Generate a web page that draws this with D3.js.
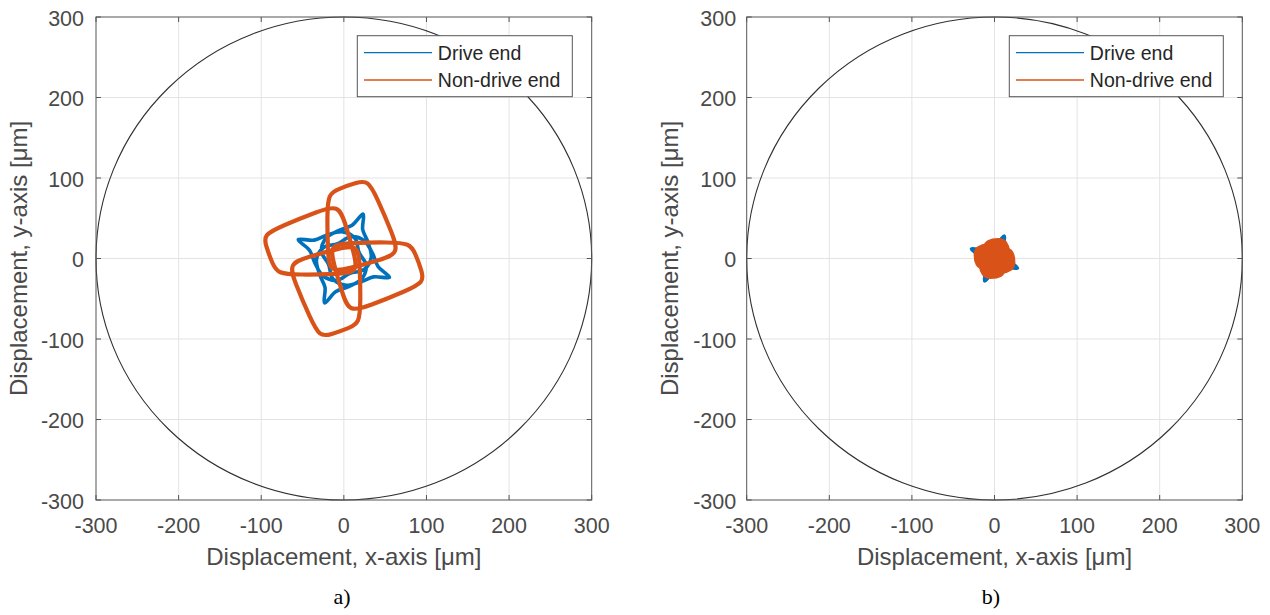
<!DOCTYPE html>
<html>
<head>
<meta charset="utf-8">
<script src="https://cdn.jsdelivr.net/npm/d3@7"></script>
<style>
  body { margin: 0; background: #fff; }
  text { font-family: "Liberation Sans", Arial, sans-serif; }
</style>
</head>
<body>
<script>
//ticks and legend
const xTicks = [-300, -200, -100, 0, 100, 200, 300];
const yTicks = [-300, -200, -100, 0, 100, 200, 300];
const seriesNames = ['Drive end', 'Non-drive end'];
const seriesColors = ['#0072BD', '#D95319'];
const clearanceRadius = 300;
const xLabel = 'Displacement, x-axis [\u03bcm]';
const yLabel = 'Displacement, y-axis [\u03bcm]';
const captions = ['a)', 'b)'];

//panel a, drive end orbit (star)
const driveEndA = [
  [55.2,-23.4],[36.0,-22.8],[20.2,-29.2],[1.2,-33.1],[-13.7,-24.6],[-18.4,-7.4],[-27.0,8.1],[-22.1,24.6],[-5.8,35.0],[10.0,41.4],
  [23.4,55.2],[22.8,36.0],[29.2,20.2],[33.1,1.2],[24.6,-13.7],[7.4,-18.4],[-8.1,-27.0],[-24.6,-22.1],[-35.0,-5.8],[-41.4,10.0],
  [-55.2,23.4],[-36.0,22.8],[-20.2,29.2],[-1.2,33.1],[13.7,24.6],[18.4,7.4],[27.0,-8.1],[22.1,-24.6],[5.8,-35.0],[-10.0,-41.4],
  [-23.4,-55.2],[-22.8,-36.0],[-29.2,-20.2],[-33.1,-1.2],[-24.6,13.7],[-7.4,18.4],[8.1,27.0],[24.6,22.1],[35.0,5.8],[41.4,-10.0]
];

//panel a, non-drive end orbit (four loops, spline control points)
const ndeTopA = [[-18.7,79.9],[-7.4,86.1],[16.5,94.7],[29.2,97.1],[40.3,75.3],[59,30.2],[66.5,6.8],[46.1,-1.1],[4.4,-12.9],[-17,-17],[-19.4,7.2],[-20.3,55.7]];
const ndeRightA = [[79.9,18.7],[86.1,7.4],[94.7,-16.5],[97.1,-29.2],[75.3,-40.3],[30.2,-59],[6.8,-66.5],[-1.1,-46.1],[-12.9,-4.4],[-17,17],[7.2,19.4],[55.7,20.3]];
const ndeBottomA = [[18.7,-79.9],[7.4,-86.1],[-16.5,-94.7],[-29.2,-97.1],[-40.3,-75.3],[-59,-30.2],[-66.5,-6.8],[-46.1,1.1],[-4.4,12.9],[17,17],[19.4,-7.2],[20.3,-55.7]];
const ndeLeftA = [[-79.9,-18.7],[-86.1,-7.4],[-94.7,16.5],[-97.1,29.2],[-75.3,40.3],[-30.2,59],[-6.8,66.5],[1.1,46.1],[12.9,4.4],[17,-17],[-7.2,-19.4],[-55.7,-20.3]];

//panel b, drive end orbit
const driveEndB = [
  [27.8,-11.8],[18.1,-11.5],[10.2,-14.8],[0.6,-16.7],[-7.0,-12.4],[-9.2,-3.7],[-13.6,4.1],[-11.2,12.4],[-2.9,17.6],[5.0,20.9],
  [11.8,27.8],[11.5,18.1],[14.8,10.2],[16.7,0.6],[12.4,-7.0],[3.7,-9.2],[-4.1,-13.6],[-12.4,-11.2],[-17.6,-2.9],[-20.9,5.0],
  [-27.8,11.8],[-18.1,11.5],[-10.2,14.8],[-0.6,16.7],[7.0,12.4],[9.2,3.7],[13.6,-4.1],[11.2,-12.4],[2.9,-17.6],[-5.0,-20.9],
  [-11.8,-27.8],[-11.5,-18.1],[-14.8,-10.2],[-16.7,-0.6],[-12.4,7.0],[-3.7,9.2],[4.1,13.6],[12.4,11.2],[17.6,2.9],[20.9,-5.0]
];

//panel b, non-drive end orbit
const ndeTopB = [[-11,-4.5],[-12.3,13.4],[-9,21.3],[5.6,23.5],[13.4,21.3],[17.9,6.7],[15.7,-2.2],[4.5,-6.7]];
const ndeRightB = [[-4.5,11],[13.4,12.3],[21.3,9],[23.5,-5.6],[21.3,-13.4],[6.7,-17.9],[-2.2,-15.7],[-6.7,-4.5]];
const ndeBottomB = [[11,4.5],[12.3,-13.4],[9,-21.3],[-5.6,-23.5],[-13.4,-21.3],[-17.9,-6.7],[-15.7,2.2],[-4.5,6.7]];
const ndeLeftB = [[4.5,-11],[-13.4,-12.3],[-21.3,-9],[-23.5,5.6],[-21.3,13.4],[-6.7,17.9],[2.2,15.7],[6.7,4.5]];

//layout
const svgWidth = 1270;
const svgHeight = 615;
const plotTop = 17;
const plotBottom = 500;

const panels = [
  {left: 96, right: 591.7, tickGap: 12, yLabelX: 27, captionX: 342, legendX: 357.3, legendW: 215,
   caption: captions[0], blue: driveEndA, orange: [ndeTopA, ndeRightA, ndeBottomA, ndeLeftA], filled: false},
  {left: 746.7, right: 1242.3, tickGap: 10.5, yLabelX: 677.7, captionX: 991, legendX: 1009.3, legendW: 214,
   caption: captions[1], blue: driveEndB, orange: [ndeTopB, ndeRightB, ndeBottomB, ndeLeftB], filled: true}
];

var svg = d3.select('body').append('svg')
  .attr('width', svgWidth)
  .attr('height', svgHeight);

panels.forEach(drawPanel);

function drawPanel(p) {
  var xScale = d3.scaleLinear().domain([-300, 300]).range([p.left, p.right]);
  var yScale = d3.scaleLinear().domain([-300, 300]).range([plotBottom, plotTop]);
  var g = svg.append('g');

  //grid
  g.selectAll('.gx').data(xTicks.slice(1, -1)).enter().append('line')
    .attr('x1', d => xScale(d)).attr('x2', d => xScale(d))
    .attr('y1', plotTop).attr('y2', plotBottom)
    .attr('stroke', '#e3e3e3').attr('stroke-width', 1);
  g.selectAll('.gy').data(yTicks.slice(1, -1)).enter().append('line')
    .attr('y1', d => yScale(d)).attr('y2', d => yScale(d))
    .attr('x1', p.left).attr('x2', p.right)
    .attr('stroke', '#e3e3e3').attr('stroke-width', 1);

  //clearance circle
  g.append('ellipse')
    .attr('cx', xScale(0)).attr('cy', yScale(0))
    .attr('rx', xScale(clearanceRadius) - xScale(0))
    .attr('ry', yScale(0) - yScale(clearanceRadius))
    .attr('fill', 'none').attr('stroke', '#303030').attr('stroke-width', 1.1);

  //orbits
  var starLine = d3.line()
    .x(d => xScale(d[0])).y(d => yScale(d[1]))
    .curve(d3.curveCatmullRomClosed.alpha(0.5));
  var loopLine = d3.line()
    .x(d => xScale(d[0])).y(d => yScale(d[1]))
    .curve(d3.curveBasisClosed);

  g.append('path')
    .attr('d', starLine(p.blue))
    .attr('fill', p.filled ? seriesColors[0] : 'none')
    .attr('stroke', seriesColors[0]).attr('stroke-width', 3.6)
    .attr('stroke-linejoin', 'round');

  g.selectAll('.loop').data(p.orange).enter().append('path')
    .attr('d', d => loopLine(d))
    .attr('fill', p.filled ? seriesColors[1] : 'none')
    .attr('stroke', seriesColors[1]).attr('stroke-width', 4.2)
    .attr('stroke-linejoin', 'round');

  //axes box
  g.append('rect')
    .attr('x', p.left).attr('y', plotTop)
    .attr('width', p.right - p.left).attr('height', plotBottom - plotTop)
    .attr('fill', 'none').attr('stroke', '#555').attr('stroke-width', 1);

  //tick marks (inward, all sides)
  var tk = 5;
  xTicks.forEach(v => {
    g.append('line').attr('x1', xScale(v)).attr('x2', xScale(v))
      .attr('y1', plotBottom).attr('y2', plotBottom - tk).attr('stroke', '#555');
    g.append('line').attr('x1', xScale(v)).attr('x2', xScale(v))
      .attr('y1', plotTop).attr('y2', plotTop + tk).attr('stroke', '#555');
  });
  yTicks.forEach(v => {
    g.append('line').attr('y1', yScale(v)).attr('y2', yScale(v))
      .attr('x1', p.left).attr('x2', p.left + tk).attr('stroke', '#555');
    g.append('line').attr('y1', yScale(v)).attr('y2', yScale(v))
      .attr('x1', p.right).attr('x2', p.right - tk).attr('stroke', '#555');
  });

  //tick labels
  g.selectAll('.xt').data(xTicks).enter().append('text')
    .attr('x', d => xScale(d)).attr('y', 533)
    .attr('text-anchor', 'middle')
    .style('font-size', '21.5px').attr('fill', '#4a4a4a')
    .text(d => d);
  g.selectAll('.yt').data(yTicks).enter().append('text')
    .attr('x', p.left - p.tickGap).attr('y', d => yScale(d) + 8.5)
    .attr('text-anchor', 'end')
    .style('font-size', '21.5px').attr('fill', '#4a4a4a')
    .text(d => d);

  //axis labels
  g.append('text')
    .text(xLabel)
    .attr('x', (p.left + p.right) / 2).attr('y', 565)
    .attr('text-anchor', 'middle')
    .style('font-size', '24px').attr('fill', '#4a4a4a');
  g.append('text')
    .text(yLabel)
    .attr('transform', `translate(${p.yLabelX}, ${(plotTop + plotBottom) / 2}) rotate(-90)`)
    .attr('text-anchor', 'middle')
    .style('font-size', '24px').attr('fill', '#4a4a4a');

  //legend
  var lg = g.append('g').attr('transform', `translate(${p.legendX}, 35.7)`);
  lg.append('rect')
    .attr('width', p.legendW).attr('height', 61)
    .attr('fill', '#fff').attr('stroke', '#555').attr('stroke-width', 1);
  seriesNames.forEach((name, i) => {
    var ly = 17 + i * 27.3;
    lg.append('line')
      .attr('x1', 6.7).attr('x2', 74.7).attr('y1', ly).attr('y2', ly)
      .attr('stroke', seriesColors[i]).attr('stroke-width', 1.3);
    lg.append('text')
      .attr('x', 80.5).attr('y', ly + 7)
      .style('font-size', '19.5px').attr('fill', '#262626')
      .text(name);
  });

  //caption
  g.append('text')
    .text(p.caption)
    .attr('x', p.captionX).attr('y', 604)
    .attr('text-anchor', 'middle')
    .style('font-family', '"Liberation Serif", "Times New Roman", serif')
    .style('font-size', '22px').attr('fill', '#000');
}
</script>
</body>
</html>
